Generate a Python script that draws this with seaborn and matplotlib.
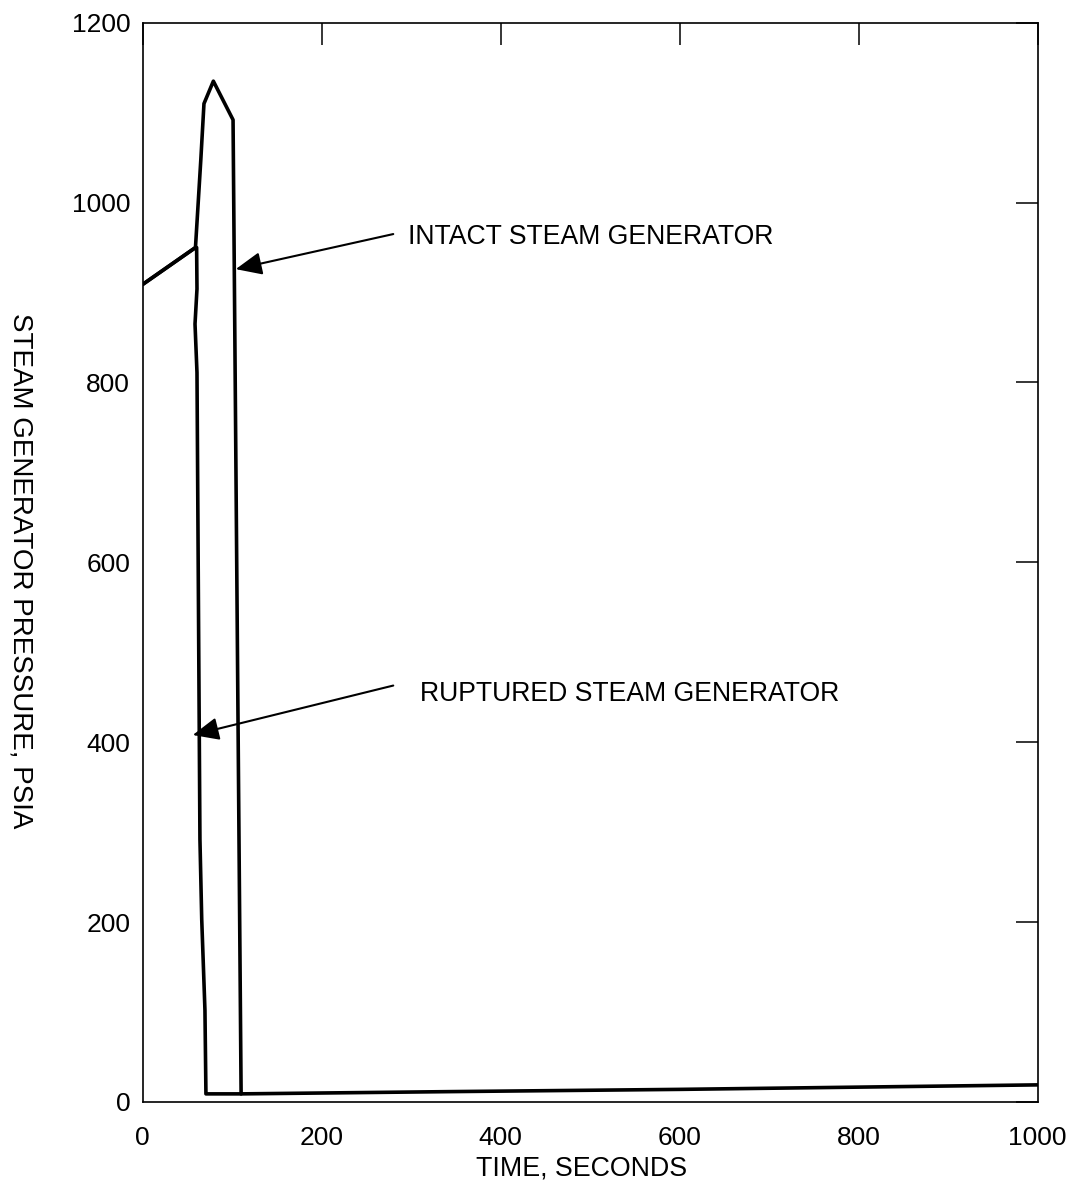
import matplotlib
matplotlib.use('Agg')
import matplotlib.pyplot as plt
import seaborn as sns

sns.set_style('white')
plt.rcParams['font.family'] = ['Liberation Sans', 'DejaVu Sans']
plt.rcParams['text.color'] = 'black'
plt.rcParams['axes.labelcolor'] = 'black'

# =====================================================
# DATA
# =====================================================
intact_time = [0, 59, 65, 68.5, 79, 101, 110, 343, 600, 800, 1000]
intact_psia = [909, 950, 1048, 1110, 1135, 1092, 9, 11.5, 14, 16.5, 19]

ruptured_time = [0, 59, 60.3, 60.7, 58.5, 60.7, 64, 66, 69.6, 70.7, 110]
ruptured_psia = [909, 950, 950, 904, 865, 811, 292, 203, 102, 9, 9]

x_ticks = [0, 200, 400, 600, 800, 1000]
y_ticks = [0, 200, 400, 600, 800, 1000, 1200]

# annotation: label, text position, arrow start, arrow tip
annot_labels = ['INTACT STEAM GENERATOR', 'RUPTURED STEAM GENERATOR']
annot_text_xy = [(297, 962), (310, 454)]
annot_tail_xy = [(280, 965), (280, 463)]
annot_tip_xy = [(104, 926), (56, 408)]

# =====================================================
# PLOT
# =====================================================
fig = plt.figure(figsize=(10.67, 11.89), dpi=100)
ax = fig.add_axes([0.1337, 0.0732, 0.8388, 0.9077])

sns.lineplot(ax=ax, x=intact_time, y=intact_psia, sort=False, estimator=None,
             color='black', linewidth=2.6)
sns.lineplot(ax=ax, x=ruptured_time, y=ruptured_psia, sort=False, estimator=None,
             color='black', linewidth=2.6)

ax.set_xlim(0, 1000)
ax.set_ylim(0, 1200)
ax.set_xticks(x_ticks)
ax.set_yticks(y_ticks)
ax.tick_params(direction='in', length=15.5, width=1.1, top=True, right=True,
               labelsize=19, colors='black')
ax.tick_params(axis='x', pad=17)
ax.tick_params(axis='y', pad=9)

for s in ax.spines.values():
    s.set_linewidth(1.2)
    s.set_color('black')

ax.set_xlabel('TIME, SECONDS', fontsize=19.3, va='top')
ax.xaxis.set_label_coords(0.49, -0.05)
ax.set_ylabel('STEAM GENERATOR PRESSURE, PSIA', fontsize=20, rotation=-90,
              va='center')
ax.yaxis.set_label_coords(-0.137, 0.492)

for lab, txy, tail, tip in zip(annot_labels, annot_text_xy, annot_tail_xy, annot_tip_xy):
    ax.text(txy[0], txy[1], lab, fontsize=19.2, ha='left', va='center')
    ax.annotate('', xy=tip, xytext=tail,
                arrowprops=dict(arrowstyle='-|>,head_length=0.8,head_width=0.35',
                                color='black', lw=1.5, mutation_scale=20,
                                shrinkA=0, shrinkB=0))

fig.savefig('out.png', dpi=100)
plt.close()
